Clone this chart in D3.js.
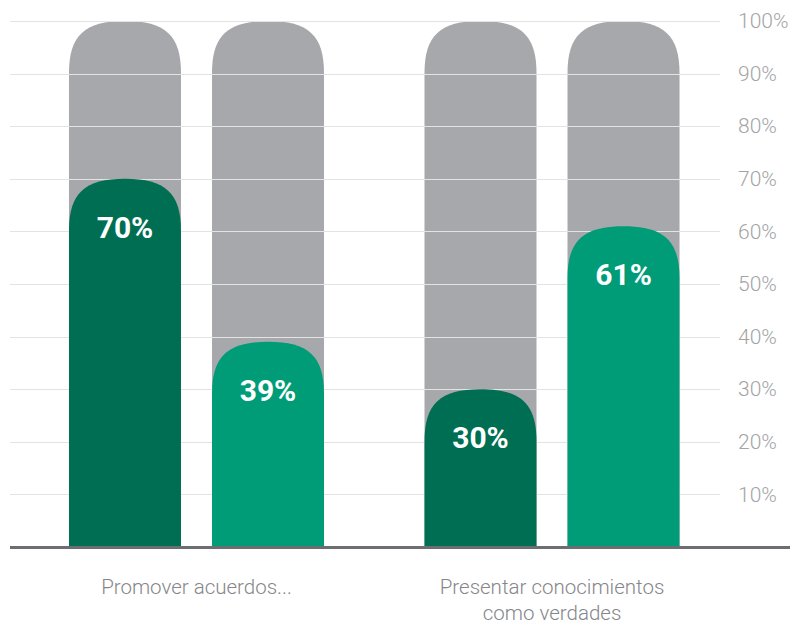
<!DOCTYPE html>
<html>
<head>
<meta charset="utf-8">
<script src="https://cdn.jsdelivr.net/npm/d3@7"></script>
<style>
  html, body { margin: 0; padding: 0; background: #fff; }
  svg { display: block; }
</style>
</head>
<body>
<svg id="chart" width="790" height="625"></svg>
<script>
// Categories (one line per label row)
const categories = ["Promover acuerdos...", "Presentar conocimientos como verdades"];
const categoryLines = [["Promover acuerdos..."], ["Presentar conocimientos", "como verdades"]];
// Two series per category (share of 100%)
const seriesA = [0.70, 0.30];
const seriesB = [0.39, 0.61];
const seriesColors = ["#006e52", "#009c77"];
const tickValues = [0.1, 0.2, 0.3, 0.4, 0.5, 0.6, 0.7, 0.8, 0.9, 1.0];

const svg = d3.select("#chart");
const baseY = 547, topY = 21;

const y = d3.scaleLinear().domain([0, 1]).range([baseY, topY]);
const x0 = d3.scaleBand().domain(categories)
  .range([18.75, 729.75]).paddingInner(0.2827).paddingOuter(0.1413);
const x1 = d3.scaleBand().domain([0, 1])
  .range([0, x0.bandwidth()]).paddingInner(0.2168).paddingOuter(0);

// Bar with a rounded, slightly squared cap
function capBar(xl, w, yTop, yBot) {
  const h = Math.min(52, yBot - yTop);
  const half = w / 2;
  const a = 0.72 * h, b = 0.72 * half;
  const p = d3.path();
  p.moveTo(xl, yBot);
  p.lineTo(xl, yTop + h);
  p.bezierCurveTo(xl, yTop + h - a, xl + half - b, yTop, xl + half, yTop);
  p.bezierCurveTo(xl + half + b, yTop, xl + w, yTop + h - a, xl + w, yTop + h);
  p.lineTo(xl + w, yBot);
  p.closePath();
  return p.toString();
}

const rows = [];
categories.forEach((c, i) => {
  [seriesA[i], seriesB[i]].forEach((v, j) => rows.push({ c, j, v }));
});

// Background (100%) bars
svg.append("g").selectAll("path").data(rows).join("path")
  .attr("d", d => capBar(x0(d.c) + x1(d.j), x1.bandwidth(), y(1), y(0)))
  .attr("fill", "#a7a8ab");

// Gridlines
svg.append("g").selectAll("line").data(tickValues).join("line")
  .attr("x1", 10).attr("x2", 720)
  .attr("y1", d => Math.round(y(d)) + 0.5).attr("y2", d => Math.round(y(d)) + 0.5)
  .attr("stroke", "#e3e3e4").attr("stroke-width", 1);

// Value bars
svg.append("g").selectAll("path").data(rows).join("path")
  .attr("d", d => capBar(x0(d.c) + x1(d.j), x1.bandwidth(), y(d.v), y(0)))
  .attr("fill", d => seriesColors[d.j]);

// Value labels
svg.append("g").selectAll("text").data(rows).join("text")
  .attr("x", d => x0(d.c) + x1(d.j) + x1.bandwidth() / 2)
  .attr("y", d => y(d.v) + 59)
  .attr("text-anchor", "middle")
  .attr("fill", "#fff")
  .attr("font-family", "Roboto, 'DejaVu Sans', sans-serif")
  .attr("font-weight", "bold")
  .attr("font-size", 30)
  .text(d => d3.format(".0%")(d.v));

// Right-side axis labels
const axis = d3.axisRight(y).tickValues(tickValues).tickFormat(d3.format(".0%")).tickSize(0).tickPadding(0);
const gAxis = svg.append("g").attr("transform", "translate(738,0)").call(axis);
gAxis.select(".domain").remove();
gAxis.selectAll("text")
  .attr("fill", "#a3a4a6")
  .attr("font-family", "Roboto, 'DejaVu Sans', sans-serif")
  .attr("font-weight", 300)
  .attr("font-size", 21);

// Baseline
svg.append("line")
  .attr("x1", 10).attr("x2", 790)
  .attr("y1", baseY + 0.5).attr("y2", baseY + 0.5)
  .attr("stroke", "#6d6e71").attr("stroke-width", 3);

// Category labels
const gCat = svg.append("g").selectAll("text").data(categories).join("text")
  .attr("x", d => x0(d) + x0.bandwidth() / 2)
  .attr("y", 594)
  .attr("text-anchor", "middle")
  .attr("fill", "#858689")
  .attr("font-family", "Roboto, 'DejaVu Sans', sans-serif")
  .attr("font-weight", 300)
  .attr("font-size", 20.5);
gCat.each(function(d, i) {
  d3.select(this).selectAll("tspan").data(categoryLines[i]).join("tspan")
    .attr("x", x0(d) + x0.bandwidth() / 2)
    .attr("dy", (l, k) => k === 0 ? 0 : 26)
    .text(l => l);
});
</script>
</body>
</html>
